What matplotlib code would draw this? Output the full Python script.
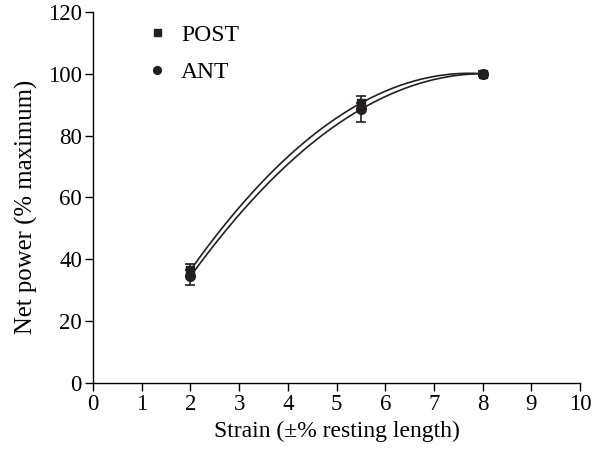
import numpy as np
import matplotlib
matplotlib.use("Agg")
import matplotlib.pyplot as plt

plt.rcParams['font.family'] = ['Liberation Serif', 'DejaVu Serif']

strain = [2, 5.5, 8]
post = [36.5, 90.5, 100]
post_err = [2.0, 2.3, 0.8]
ant = [34.5, 88.5, 100]
ant_err = [2.8, 4.0, 0.8]

fig = plt.figure(figsize=(6.08, 4.54), dpi=100)
ax = fig.add_axes([0.153, 0.156, 0.801, 0.818])

xs = np.linspace(2, 8, 200)
for vals in (post, ant):
    c = np.polyfit(strain, vals, 2)
    ax.plot(xs, np.polyval(c, xs), color='#231f20', lw=1.2, zorder=2)

ax.errorbar(strain, post, yerr=[[0]*3, post_err], fmt='none', ecolor='#231f20',
            elinewidth=1.2, capsize=3.5, capthick=1.2, zorder=3)
ax.errorbar(strain, ant, yerr=[ant_err, [0]*3], fmt='none', ecolor='#231f20',
            elinewidth=1.2, capsize=3.5, capthick=1.2, zorder=3)
ax.plot(strain, post, 's', color='#231f20', ms=6.3, zorder=4, label='POST')
ax.plot(strain, ant, 'o', color='#231f20', ms=7, zorder=4, label='ANT')

ax.set_xlim(0, 10)
ax.set_ylim(0, 120)
ax.set_xticks(range(0, 11))
ax.set_yticks(range(0, 121, 20))
for s in ('top', 'right'):
    ax.spines[s].set_visible(False)
for s in ('left', 'bottom'):
    ax.spines[s].set_linewidth(1.0)
ax.tick_params(direction='out', length=6, width=1.0, labelsize=16.5, pad=2)
ax.set_xlabel('Strain (±% resting length)', fontsize=17, labelpad=4)
ax.set_ylabel('Net power (% maximum)', fontsize=17.8)
ax.yaxis.set_label_coords(-0.112, 0.475)

leg = ax.legend(loc='upper left', bbox_to_anchor=(0.069, 1.024), frameon=False,
                fontsize=17, handlelength=0.8, handletextpad=0.6, labelspacing=0.67,
                markerscale=0.8)

fig.savefig('out.png', dpi=100)
